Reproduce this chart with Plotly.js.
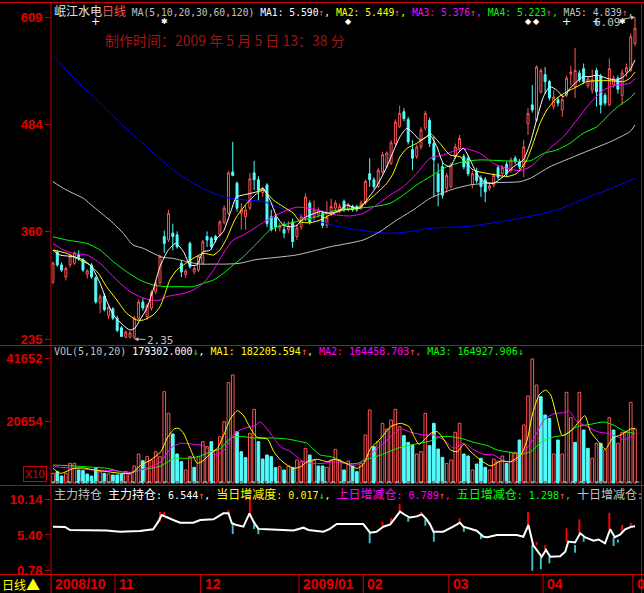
<!DOCTYPE html>
<html><head><meta charset="utf-8">
<script src="https://cdn.plot.ly/plotly-3.0.1.min.js"></script>
<style>html,body{margin:0;padding:0;background:#000;}#chart{width:644px;height:593px;}</style>
</head><body><div id="chart"></div>
<script>
// ---------------- DATA ----------------
const open  = [301,336,321,307,321,323,333,327,310,321,306,277,285,262,270,259,248,237,237,237,259,278,261,271,290,300,354,350,358,356,323,310,346,313,315,323,354,352,354,356,370,381,429,416,381,377,387,428,420,405,414,377,376,364,362,362,371,354,365,375,393,377,379,381,367,381,387,384,395,385,389,389,387,393,427,420,412,429,435,439,462,482,499,490,455,447,458,480,489,462,427,435,410,412,447,456,447,445,414,430,422,420,410,414,434,427,438,431,445,441,435,485,507,489,522,542,534,505,513,501,518,543,528,544,549,529,524,547,540,518,507,530,538,518,545,547,578];
const high  = [325,338,324,319,334,337,338,329,316,323,308,287,288,274,272,262,250,245,244,262,281,282,276,292,303,333,361,385,369,360,327,316,348,320,333,350,360,354,356,373,390,430,464,418,393,391,428,442,424,412,416,385,380,370,371,372,375,368,380,404,396,396,388,384,395,398,396,392,397,393,391,391,396,420,445,423,434,452,453,466,490,506,503,493,466,461,481,500,492,470,439,440,428,440,462,472,450,448,430,434,425,423,416,428,437,437,441,446,448,444,466,503,530,553,549,551,536,524,516,518,541,552,573,547,555,540,548,550,543,521,561,541,541,548,555,590,609];
const low   = [299,319,313,303,318,321,326,313,305,305,276,265,267,258,257,243,237,236,236,235,257,268,257,268,287,298,335,348,338,340,307,306,317,310,313,321,342,339,347,354,368,379,424,383,362,362,385,408,396,400,365,360,360,360,352,358,341,350,362,372,368,371,376,364,364,378,384,381,383,383,383,383,385,391,412,409,410,427,433,437,460,480,488,461,431,444,455,477,458,400,389,398,405,410,444,453,432,424,410,416,400,394,407,411,420,424,424,428,438,432,423,472,498,487,520,520,512,502,505,493,516,530,515,533,531,526,520,505,497,506,505,527,520,507,540,545,575];
const close = [323,321,315,317,331,335,330,315,314,307,278,284,269,272,259,245,238,243,242,259,278,271,274,289,300,331,346,381,354,342,313,314,319,317,331,348,350,342,350,371,387,428,425,387,385,385,421,420,408,410,369,362,365,367,358,366,348,364,377,400,371,385,385,367,376,389,393,389,385,391,385,385,393,418,420,412,431,449,451,463,487,497,491,464,445,458,478,497,462,443,406,402,425,437,458,468,435,427,427,419,412,406,413,425,423,434,427,443,441,435,458,497,501,551,547,534,515,516,509,513,538,545,547,536,534,537,536,522,507,509,549,538,525,544,550,586,596];
const volume = [3220,3780,2330,3220,6560,6560,4330,4110,3000,2330,4890,3780,3220,3000,2670,2670,3000,3780,3000,5670,9670,7440,8780,7670,10440,8780,30440,23220,16330,9670,7110,4330,8780,5220,8780,13780,12110,13780,11000,15440,20440,33440,36000,17110,10440,8440,16550,24550,13780,8000,9330,8780,5110,5440,4330,5670,5220,7670,7110,11550,9330,7670,5670,5670,5220,7670,11220,7670,4330,7330,5670,3780,6560,16000,24330,12110,13780,19890,18000,21000,24550,18780,15780,13550,12670,9670,10440,23220,12440,19890,11330,8550,6560,7670,16890,19890,9670,9000,4330,6330,8220,5220,4330,8000,7330,9000,6560,10220,10220,14330,19330,29000,41330,32660,28780,22660,21550,9670,14330,9670,30220,21780,13550,30220,17670,11550,8220,13220,13220,11000,21780,17670,13220,16890,16890,26890,17930];
// volume bar colour as seen in the picture: 1 = red (up), 0 = cyan (down)
const volUp = [1,0,0,1,1,1,0,0,0,0,0,1,0,1,0,0,0,1,1,1,1,0,1,1,1,1,1,1,0,0,0,1,1,0,1,1,1,0,1,1,1,1,1,0,0,0,1,1,0,0,0,0,0,1,0,1,0,1,1,1,0,1,0,0,1,1,1,1,
               0,1,0,0,1,1,1,0,1,1,1,1,1,1,0,0,0,1,1,1,0,0,0,0,1,1,1,1,0,0,1,0,0,0,1,1,1,1,0,1,1,0,1,1,1,1,0,0,0,1,0,1,1,1,0,1,0,0,1,1,0,1,1,0,1,1,1,1,1];

// price moving averages (bar index, value)
const ma5Idx = [0,1.6,4.7,7.1,9,11,12.5,14.1,16.4,18,19.2,20.3,21.9,23.4,25,26.9,28.7,30.5,32,33.6,35.1,36.7,38.3,39.8,41.4,42.9,44.5,47.6,49.1,50.7,52.3,53.8,55.4,57,58.5,60.1,62.4,64.7,67.1,68.6,70.2,71.7,73.3,75.6,78,79.5,81.1,82.7,84.2,85.8,87.3,88.1,89.7,91.2,92.8,94.3,95.9,97.5,99,100.6,102.9,105.2,107.6,109.9,111.5,113,114.6,116.1,117.7,119.3,120.8,122.4,123.9,125.5,127.1,129.4,131.7,133.3,134.8,136];
const ma5Val = [338,332.6,330.6,326.8,319,299.7,280,263,251,245.4,247.8,257,270.6,292,319,338,346,336.4,321,321,336.4,338,352,359.7,381,400,402.3,406,410,396.4,377,367.4,365.4,367,375.2,379,382.9,381,384.8,390.6,388,386.8,396.4,412,435,452.6,470,479.7,474,466,470,472,458.4,439,435,448.7,456.4,443,427.4,417.7,415.8,423.5,435,443,462.3,489.4,516.4,528,524.2,516.4,526.2,533.9,539.7,539.7,541.6,537.8,535.8,539.7,547.4,559];
const ma10Idx = [0,3.2,6.3,8.6,10.6,12.5,14.9,17.2,19.6,21.1,23.4,25,26.2,27.3,28.9,30.5,32.8,35.1,37.5,39,40.6,42.1,42.9,45.3,47.6,49.1,51.5,53.8,56.2,57.7,60.1,62.4,64.7,67.8,71,73.3,75.6,78,79.5,81.1,82.7,85,87.3,88.1,90.4,92.8,95.1,98.2,101.4,103.7,106,108.4,110.7,112.2,113.8,115.4,117.7,120.1,122.4,124.7,127.1,130.2,133.3,134.8,136];
const ma10Val = [338.4,334.5,326.8,321,311.3,295.8,280.3,265,257,257,263,272.5,288,303.5,315,321,328.7,334.5,332.6,338.4,352,369.4,377,392.6,404,408,396.4,388.7,381,371.3,370,373.2,379,384.8,386.8,394.5,404.2,415.8,427.4,446.7,456.4,462.3,470,474,462.3,448.7,446.7,431.3,427.4,425.5,423.5,427.4,443,462.3,485.5,501,514.6,522.2,528,533.9,535,535,533.9,537.8,545];
const ma20Idx = [0,2.4,4.7,7.9,11,13.3,15.7,18,20.3,22.7,25,26.6,30.5,32.8,35.1,37.5,39.8,42.1,44.5,47.6,50.7,53.8,56.9,60.1,63.2,66.3,69.4,72.5,75.6,78.8,81.9,85,88.1,91.2,95.9,99.8,102.9,106,109.1,111.5,113.8,116.1,119.3,122.4,125.5,128.6,131.7,134.8,136];
const ma20Val = [346,338.4,334.5,332.6,323,311.3,299.7,290,284.2,280.3,280.3,284.2,288,292,299.7,315,334.5,350,355.8,365.4,375.2,382.9,388,386.8,382.9,379,377.9,381,390.6,402.3,412,427.4,444.9,448.7,456.4,450.6,439,433.3,430.5,435,444.9,456.4,470,489.4,508.8,524.2,530,532,537.6];
const ma30Idx = [0,3.2,7.9,11,14.1,17.2,20.3,23.4,26.6,29.7,32.8,35.1,37.5,39.8,42.1,44.5,47.6,50.7,53.8,56.9,61.6,66.3,71,74.9,78.8,81.9,85,88.1,92,95.9,99.8,111.5,114.6,117.7,120.8,123.9,127.1,130.2,132.5,134.8,136];
const ma30Val = [353.8,350,346,338.4,324.8,313.2,303.5,297.7,295.8,295.8,295.8,299.7,303.5,311.3,321,330.6,346,361.6,367.4,371.3,377,384.8,386.8,388.7,392.6,402.3,414,423.5,435,441,443,442,450.6,454.5,462.3,474,481.6,497,506.8,514.6,521];
const ma60Idx = [0,2.4,4.7,7.1,9.4,11.8,14.1,16.4,18.7,21.1,23.4,25.7,28,31.2,34.3,37.4,40.5,43.7,47.2,56.9,64.7,72.5,76.4,80.3,84.2,88.1,92.8,97.5,103.7,109.1,111.5,116.1,120.8,125.5,130.2,134.8,136];
const ma60Val = [417.7,410,404.2,398.4,388.8,379,369.4,357.8,344.2,340.3,334.5,329.8,328.7,324.8,322,322,322,323,327,332.6,342,350,359.7,373,385,398.4,408,414,416.6,417.7,421.6,435,444.9,454.5,464,475.8,483.6];
const ma120Idx = [0,5.1,11,16.8,22.7,28.1,32.8,37.5,41.4,49.1,55.4,60.8,67.1,74.1,78.8,83.4,88.1,97.5,106.8,117.7,123.9,130,136];
const ma120Val = [563.7,537,509,481,454.5,431.3,415.8,404.2,398.4,394.5,382.9,373.2,365.4,359.7,357.8,359.7,363.6,366,373.2,384.8,397.6,409,421.6];

// volume moving averages
const vma5Idx = [0,1.8,4.9,7.2,9.6,12.7,15.8,18.1,18.9,20.5,22.8,25.2,26.7,28.3,29.4,30.6,32.2,33.7,35.3,36.8,38.4,40,41.5,43.1,44.6,46.2,47.7,50.1,51.6,53.2,54.8,56.3,57.9,59.4,61.8,64.1,65.7,68,71.1,72.7,74.2,76.6,78.9,81.2,83.2,84.4,85.5,87.1,88.2,89.8,91.4,92.9,94.5,96,97.6,99.9,102.3,104.6,106.9,109.3,110.8,112,113.6,115.1,116.3,117.8,119,121,122.9,124.3,125.6,127.6,129.1,130.7,132.6,135,136];
const vma5Val = [4890,3220,4890,5000,4330,3780,3220,3220,3780,5890,7670,10440,15000,18000,18220,16330,11000,6560,7670,9890,11550,16330,21560,24100,22330,18000,15220,14660,10440,7670,5890,4890,5440,7110,7890,7110,7890,6890,4890,6560,11550,14890,18780,19890,18780,15440,12890,14890,16550,17110,14330,11000,10440,12890,10440,7670,5670,7330,7110,9330,14330,22660,29330,31000,29330,21550,15770,17330,20440,22440,17110,13550,11220,14890,16000,18000,18220];
const vma10Idx = [0,4.9,9.6,14.3,18.1,20.5,22.8,25.2,27.5,29.8,32.9,35.3,36.8,38.4,40.3,42.3,44.6,47,48.5,50.9,53.2,55.5,57.9,60.2,63.3,65.7,68,71.1,73.5,76.6,78.9,81.2,83.6,86.7,89,91.4,93.7,96,98.4,100.7,103,105.4,107.7,110.1,112.4,114.7,117.1,119.4,120.6,122.5,124.9,127.2,129.5,131.9,133.4,135,136];
const vma10Val = [5440,4890,4330,4110,3440,4330,5440,7110,11560,13220,12890,12440,10440,9330,11550,16330,18220,19000,20330,16330,12110,10440,7670,6560,6560,7110,6560,6000,8890,12450,15440,18000,16890,16000,16000,14330,11560,13220,11000,9560,9330,7330,7110,10440,14890,21000,23110,23440,24000,20440,18780,17110,16550,15440,14330,15440,16446];
const vma20Idx = [0,4.9,9.6,12.7,15.8,18.1,20.5,22.8,25.2,28.3,31.4,34.5,36.8,39.2,41.5,43.8,47,51.6,54.8,57.1,59.4,61,62.5,64.9,67,68,71.1,73.5,76.6,80.5,84.4,88.2,90.6,92.9,95.3,98.4,101.5,103.8,106.9,109.3,111.6,114,116.3,119.4,122.5,125.6,128.7,131.1,133.4,136];
const vma20Val = [6000,5670,5220,4890,3780,3560,4330,4890,5670,8220,8220,9000,10440,11550,15000,15550,15000,15000,14660,14000,13220,11000,9330,8780,7670,6560,6560,8000,9330,11550,12890,14000,15440,15440,14890,13550,12450,11000,10220,9560,10440,13550,15110,16000,18780,19550,20330,19220,17330,16493];

// 主力持仓 indicator line + spikes
const indIdx = [0,2.8,4,8.6,12.5,15.7,18.8,20.3,23.4,24.6,25.4,26.6,28.1,29.7,32.8,34.4,37.5,39.8,41,41.8,42.9,44.5,45.9,46.8,48,49.9,53,56.2,58.5,59.7,63.2,64.7,66.3,69,72.5,74.1,75.6,77.2,78.8,79.9,81.1,82.3,83.4,85,86.2,87.3,88.1,88.9,91.2,93.5,95.1,95.9,99,100.6,101.5,103.7,108.4,109.9,111.1,112.2,113.4,114.2,115.2,116.2,118.5,119.7,120.4,122,123.2,124.3,126.3,127.5,129,130.2,131.3,132.5,133.7,135.2,136];
const indVal = [6.49,6.45,6.05,6.05,5.98,5.83,5.83,5.93,6.15,7.15,8.03,7.7,7.37,7.02,7.02,7.37,7.46,8.25,8.25,6.94,6.7,6.49,8.25,7.2,6.2,6.15,6.05,5.98,6.36,6.05,5.83,6.2,6.84,6.84,6.84,5.7,5.83,6.49,6.8,7.6,8.47,8.03,7.7,7.85,8.12,7.46,6.8,5.83,5.83,6.49,7.02,6.49,5.96,5.17,5.1,5.4,5.4,5.17,6.71,4.08,3.19,2.53,3.42,2.53,2.6,3.19,4.52,4.4,5.62,5.1,4.64,4.8,4.3,6.15,5.1,5.45,6.15,6.49,6.54];
const spkIdx  = [25,26,41,46,77,79,81,86,95,111,113,115,120,123,130,133,135,42,47,48,74,83,87,89,96,100,112,114,116,122,124,131,132];
const spkFrom = [7.15,7.9,8.25,8.25,6.6,6.93,8.47,8.12,7.02,6.71,4.08,3.42,4.52,5.62,6.15,5.71,6.49,6.94,7.2,6.2,5.7,7.7,7.46,5.83,6.49,5.4,4.08,2.53,2.53,4.08,5.1,5.1,4.8];
const spkTo   = [8.43,8.43,8.7,10.1,7.1,7.6,9.48,8.47,7.6,8.47,4.52,4.08,6.28,7.46,8.34,6.71,7.02,5.53,6.2,5.5,4.3,7.15,6.6,4.52,5.83,4.84,0.69,0.87,1.66,3.06,4.52,3.95,4.4];

// axis ticks / labels
const priceTicks = [235,360,484,609];
const volTicks = [20654,41652];
const indTicks = [0.78,5.40,10.14];
const indTickText = ['0.78','5.40','10.14'];
const monthStart = [0,15,35,58,73,93,115,136];
const monthLabel = ['2008/10','11','12','2009/01','02','03','04','05'];
const sigIdx = [10,26,69,111,113,120,127,133];
const sigSym = ['+','✱','◆','◆','◆','+','+','✱'];
const maNames = ['MA1','MA2','MA3','MA4','MA5'];
const maNums  = ['5.590','5.449','5.376','5.223','4.839'];
const volNames = ['MA1','MA2','MA3'];
const volNums = ['182205.594','164458.703','164927.906'];

// ---------------- CHART ----------------
(function(){
const W=644,H=593;
const PX=x=>x/W, PY=y=>1-y/H;
const FR='#d00000', LBL='#e00000';
const UPC='#ff5454', DNC='#54fcfc';
const idx=open.map((_,i)=>i);
const k=(635-53)/136, xr0=-(53-51)/k, xr1=136+(641-635)/k;

const mono=(t,c,s)=>`<span style="font-family:DejaVu Sans Mono;font-size:${s||10}px;color:${c}">${t}</span>`;
const cjk=(t,c)=>`<span style="font-family:Noto Sans CJK SC;font-size:12px;color:${c}">${t}</span>`;
const S='\u00a0';
const maCols=['#ffffff','#ffff00','#ff00ff','#00ff00','#c0c0c0'];

const traces=[];
traces.push({type:'candlestick',x:idx,open:open,high:high,low:low,close:close,xaxis:'x',yaxis:'y',whiskerwidth:0,
  increasing:{line:{color:UPC,width:1},fillcolor:'#000000'},
  decreasing:{line:{color:DNC,width:1},fillcolor:DNC},hoverinfo:'none'});
const maSets=[[ma120Idx,ma120Val,'#0000ff'],[ma60Idx,ma60Val,'#c0c0c0'],[ma30Idx,ma30Val,'#00ff00'],[ma20Idx,ma20Val,'#ff00ff'],[ma10Idx,ma10Val,'#ffff00'],[ma5Idx,ma5Val,'#ffffff']];
maSets.forEach(([xi,yv,c])=>traces.push({type:'scatter',mode:'lines',x:xi,y:yv,xaxis:'x',yaxis:'y',line:{color:c,width:1,shape:'spline',smoothing:0.6},hoverinfo:'none'}));
traces.push({type:'bar',x:idx,y:volume,xaxis:'x',yaxis:'y2',width:0.62,
  marker:{color:volUp.map(u=>u?'#000000':DNC),line:{color:volUp.map(u=>u?UPC:DNC),width:1}},hoverinfo:'none'});
[[vma20Idx,vma20Val,'#00ff00'],[vma10Idx,vma10Val,'#ff00ff'],[vma5Idx,vma5Val,'#ffff00']].forEach(([xi,yv,c])=>
  traces.push({type:'scatter',mode:'lines',x:xi,y:yv,xaxis:'x',yaxis:'y2',line:{color:c,width:1,shape:'spline',smoothing:0.6},hoverinfo:'none'}));
traces.push({type:'bar',x:spkIdx,base:spkFrom,y:spkTo.map((t,i)=>t-spkFrom[i]),xaxis:'x',yaxis:'y3',width:0.45,
  marker:{color:spkTo.map((t,i)=>t>spkFrom[i]?'#ff0000':'#3cc0cc'),line:{width:0}},hoverinfo:'none'});
traces.push({type:'scatter',mode:'lines',x:indIdx,y:indVal,xaxis:'x',yaxis:'y3',line:{color:'#ffffff',width:2},hoverinfo:'none'});

const tickfont={family:'Liberation Sans',size:13,color:LBL,weight:'bold'};
const yBase={showgrid:false,zeroline:false,showline:false,ticks:'outside',ticklen:5,tickcolor:FR,tickwidth:1,tickfont:tickfont,anchor:'x',tickmode:'array',fixedrange:true};

const shapes=[];
const hl=(y,x0,x1,c,d)=>shapes.push({type:'line',xref:'paper',yref:'paper',x0:PX(x0),x1:PX(x1),y0:PY(y),y1:PY(y),line:{color:c,width:1,dash:d||'solid'}});
const vl=(x,y0,y1,c)=>shapes.push({type:'line',xref:'paper',yref:'paper',x0:PX(x),x1:PX(x),y0:PY(y0),y1:PY(y1),line:{color:c,width:1}});
hl(2.5,0,644,FR); hl(345.5,0,644,FR); hl(485.5,0,644,FR); hl(574.5,0,644,FR);
hl(482,51,641,DNC,'4px,4px'); hl(482,55,641,FR,'4px,4px');
vl(51,2.5,593,FR); vl(641.5,2.5,593,FR);
monthStart.forEach(m=>shapes.push({type:'line',xref:'x',yref:'paper',x0:Math.max(m-0.5,xr0),x1:Math.max(m-0.5,xr0),y0:PY(593),y1:PY(574.5),line:{color:FR,width:1}}));

const ann=[];
const A=(o)=>ann.push(Object.assign({xref:'paper',yref:'paper',showarrow:false,xanchor:'left',yanchor:'middle',font:{family:'DejaVu Sans Mono, Noto Sans CJK SC',size:10,color:'#c0c0c0'}},o));
const hs=9.7;
let topTxt=cjk('岷江水电','#e0e0e0')+cjk('日线','#ff5050')+mono(S+'MA(5,10,20,30,60,120)'+S,'#c0c0c0',hs);
maNames.forEach((n,i)=>{topTxt+=mono(n+': '+maNums[i],maCols[i],hs)+mono('↑',UPC,hs)+mono(','+(i<maNames.length-1?S:''),maCols[i],hs);});
A({x:PX(52),y:PY(10),text:topTxt});
A({x:PX(225),y:PY(40),xanchor:'center',text:'制作时间：2009 年 5 月 5 日 13：38 分',font:{family:'Noto Sans CJK SC',size:14,color:'#a01414'}});
let vh=mono('VOL(5,10,20)'+S,'#c0c0c0')+mono('179302.000','#ffffff')+mono('↓','#00ff00')+mono(','+S,'#ffffff');
const vcols=['#ffff00','#ff00ff','#00ff00'], varr=['↑','↑','↓'];
volNames.forEach((n,i)=>{vh+=mono(n+': '+volNums[i],vcols[i])+mono(varr[i],varr[i]==='↑'?UPC:'#00ff00')+(i<2?mono(','+S,vcols[i]):'');});
A({x:PX(52),y:PY(351),text:vh});
let ih=cjk('主力持仓','#c0c0c0')+mono(S,'#fff')+cjk('主力持仓','#ffffff')+mono(': 6.544','#ffffff')+mono('↑',UPC)+mono(','+S,'#ffffff')
 +cjk('当日增减度','#ffff00')+mono(': 0.017','#ffff00')+mono('↓','#00ff00')+mono(','+S,'#ffff00')
 +cjk('上日增减仓','#ff00ff')+mono(': 0.789','#ff00ff')+mono('↑',UPC)+mono(','+S,'#ff00ff')
 +cjk('五日增减仓','#00ff00')+mono(': 1.298','#00ff00')+mono('↑',UPC)+mono(','+S,'#00ff00')
 +cjk('十日增减仓','#c0c0c0')+mono(':','#c0c0c0');
A({x:PX(52),y:PY(493),text:ih});
monthStart.forEach((m,i)=>ann.push({xref:'x',yref:'paper',x:Math.max(m-0.5,xr0+0.01),y:PY(584),xanchor:'left',yanchor:'middle',xshift:2,showarrow:false,
  text:monthLabel[i],font:{family:'Liberation Sans',size:14,color:LBL,weight:'bold'}}));
A({x:PX(0),y:PY(584),text:cjk('日线','#ffff00')+'<span style="font-size:14px;color:#ffff00">▲</span>',font:{family:'Noto Sans CJK SC',size:14,color:'#ffff00'}});
A({x:PX(35),y:PY(474),xanchor:'center',text:'X10',bordercolor:FR,borderwidth:1,borderpad:1,font:{family:'Liberation Sans',size:11,color:LBL}});
sigIdx.forEach((s,i)=>ann.push({xref:'x',yref:'paper',x:s,y:PY(21),showarrow:false,xanchor:'center',yanchor:'middle',text:sigSym[i],
  font:{family:'DejaVu Sans',size:sigSym[i]==='+'?11:8,color:'#ffffff'}}));
const hiI=high.indexOf(Math.max(...high)), loI=low.indexOf(Math.min(...low));
ann.push({xref:'x',yref:'y',x:hiI,y:high[hiI],text:(high[hiI]/100).toFixed(2),showarrow:true,arrowhead:2,arrowsize:0.8,arrowwidth:1,arrowcolor:'#c0c0c0',ax:-28,ay:5,
  font:{family:'DejaVu Sans Mono',size:11,color:'#c0c0c0'}});
ann.push({xref:'x',yref:'y',x:loI,y:low[loI],text:(low[loI]/100).toFixed(2),showarrow:true,arrowhead:2,arrowsize:0.8,arrowwidth:1,arrowcolor:'#c0c0c0',ax:26,ay:1,
  font:{family:'DejaVu Sans Mono',size:11,color:'#c0c0c0'}});

const layout={width:W,height:H,margin:{l:0,r:0,t:0,b:0},paper_bgcolor:'#000',plot_bgcolor:'#000',showlegend:false,
  barmode:'overlay',boxgap:0.35,dragmode:false,hovermode:false,
  xaxis:{domain:[PX(51),PX(641)],range:[xr0,xr1],showticklabels:false,showgrid:false,zeroline:false,showline:false,ticks:'',
    rangeslider:{visible:false},anchor:'y3',fixedrange:true},
  yaxis:Object.assign({},yBase,{domain:[PY(345.5),PY(3)],range:[609-(345.5-17)*1.16149,609+14*1.16149],tickvals:priceTicks,ticktext:priceTicks.map(String)}),
  yaxis2:Object.assign({},yBase,{domain:[PY(485.5),PY(345.5)],range:[-(485.5-483)*333.3,(483-345.5)*333.3],tickvals:volTicks,ticktext:volTicks.map(String)}),
  yaxis3:Object.assign({},yBase,{domain:[PY(574.5),PY(485.5)],range:[10.14-(574.5-499)*0.13183,10.14+(499-485.5)*0.13183],tickvals:indTicks,ticktext:indTickText}),
  shapes:shapes,annotations:ann};
Plotly.newPlot('chart',traces,layout,{staticPlot:true,displayModeBar:false});
})();
</script></body></html>
